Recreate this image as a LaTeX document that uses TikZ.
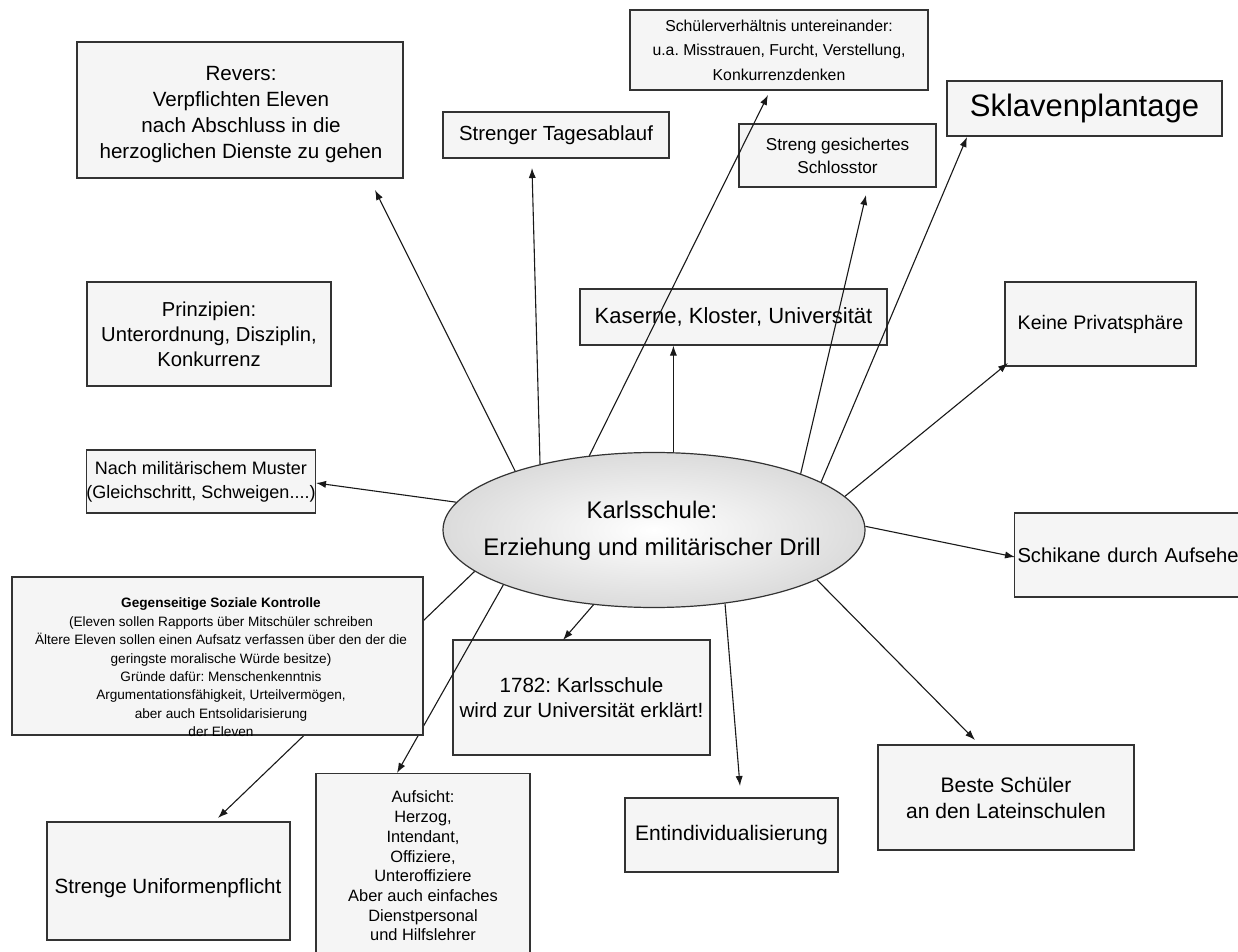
\documentclass[tikz,border=0pt]{standalone}
\usepackage{fontspec}
\setmainfont{Liberation Sans}
\usetikzlibrary{arrows.meta,shapes.geometric}
\begin{document}
\frenchspacing
\begin{tikzpicture}[x=0.5pt,y=-0.5pt,
  box/.style={draw=black!80, line width=0.6pt, fill=black!4, inner sep=0pt, align=center},
  sz/.style 2 args={minimum width={#1*0.5pt}, minimum height={#2*0.5pt}},
  fs/.style 2 args={font=\fontsize{#1}{#2}\selectfont},
  txt/.style={inner sep=0pt, align=center},
  arr/.style={draw=black!90, line width=0.55pt, -{Latex[length=5pt,width=3.6pt]}},
]
\fill[white] (0,0) rectangle (1238,952);
\useasboundingbox (0,0) rectangle (1238,952);

% boxes
\node[box, sz={326}{136}] (rev) at (240,110) {};
\node[txt, fs={10.3}{13}] (revT) at (241,115) {Revers:\\Verpflichten Eleven\\nach Abschluss in die\\herzoglichen Dienste zu gehen};
\node[box, sz={226}{46}, fs={10.2}{12}] (tag) at (556,135) {Strenger Tagesablauf};
\node[box, sz={298}{80}, fs={7.9}{12.25}] (sch) at (779,50) {Schülerverhältnis untereinander:\\u.a. Misstrauen, Furcht, Verstellung,\\Konkurrenzdenken};
\node[box, sz={275}{55}, fs={15.5}{18}] (skl) at (1084.5,108.5) {Sklavenplantage};
\node[box, sz={197}{63}, fs={8.6}{11.5}] (sto) at (837.5,155.5) {Streng gesichertes\\Schlosstor};
\node[box, sz={307}{56}, fs={11}{13}] (kas) at (733.5,317) {Kaserne, Kloster, Universität};
\node[box, sz={191}{84}, fs={9.8}{12}] (pri) at (1100.5,324) {Keine Privatsphäre};
\node[box, sz={244}{104}, fs={10.1}{12.5}] (prz) at (209,334) {Prinzipien:\\Unterordnung, Disziplin,\\Konkurrenz};
\node[box, sz={228}{63}, fs={9}{12}] (nach) at (201,481.5) {Nach militärischem Muster\\(Gleichschritt, Schweigen....)};
\node[ellipse, draw=black!80, line width=0.6pt, inner color=white, outer color=black!14, sz={422}{155}, inner sep=0pt] (ell) at (654,530) {};
\node[txt, fs={12}{18.5}] (ellT) at (652,531) {Karlsschule:\\Erziehung und militärischer Drill};
\node[box, sz={235}{84}, fs={10.1}{12}, align=left, text width=115pt, inner xsep=1.5pt] (sk) at (1132.5,555) {Schikane durch Aufsehe};
\node[box, sz={257}{115}, fs={10.3}{12.5}] (u82) at (581.5,697.5) {1782: Karlsschule\\wird zur Universität erklärt!};
\node[box, sz={256}{105}, fs={10.5}{13}] (bes) at (1006,797.5) {Beste Schüler\\an den Lateinschulen};
\node[box, sz={213}{74}, fs={10.5}{12}] (ent) at (731.5,835) {Entindividualisierung};
\node[box, sz={214}{185}, fs={8.2}{9.85}] (auf) at (423,866) {Aufsicht:\\Herzog,\\Intendant,\\Offiziere,\\Unteroffiziere\\Aber auch einfaches\\Dienstpersonal\\und Hilfslehrer};
\node[box, sz={243}{118}] (uni) at (168.5,881) {};
\node[txt, fs={10.3}{12}] (uniT) at (168,888) {Strenge Uniformenpflicht};

% arrow tips
\coordinate (tRev) at (375,190);
\coordinate (tTag) at (532,168);
\coordinate (tSch) at (768,95);
\coordinate (tSto) at (866,195);
\coordinate (tSkl) at (967,137);
\coordinate (tPri) at (1008,363);
\coordinate (tSk) at (1015,557);
\coordinate (tBes) at (975,740);
\coordinate (tEnt) at (740,786);
\coordinate (tU82) at (563,640);
\coordinate (tAuf) at (397,773);
\coordinate (tUni) at (218,818);
\coordinate (tNach) at (316,483);

% connectors
\draw[arr] (ell.157.5) -- (tRev);
\draw[arr] (ell.150.1) -- (tTag);
\draw[arr] (ell.131.3) -- (tSch);
\draw[arr] (ell.76.5) -- (ell.76.5 |- kas.south);
\draw[arr] (ell.21.3) -- (tSto);
\draw[arr] (ell.16) -- (tSkl);
\draw[arr] (ell.10.4) -- (tPri);
\draw[arr] (ell.1.7) -- (tSk);
\draw[arr] (ell.-17.2) -- (tBes);
\draw[arr] (ell.-46.3) -- (tEnt);
\draw[arr] (ell.-129.4) -- (tU82);
\draw[arr] (ell.-160.7) -- (tAuf);
\draw[arr] (ell.-167) -- (tUni);
\draw[arr] (ell.172.3) -- (tNach);

% box lying over a connector
\node[box, sz={411}{158}] (geg) at (217.5,656) {};
\node[txt, fs={6.8}{9.2}] (gegT) at (221,667.5) {\textbf{Gegenseitige Soziale Kontrolle}\\(Eleven sollen Rapports über Mitschüler schreiben\\Ältere Eleven sollen einen Aufsatz verfassen über den der die\\geringste moralische Würde besitze)\\Gründe dafür: Menschenkenntnis\\Argumentationsfähigkeit, Urteilvermögen,\\aber auch Entsolidarisierung\\der Eleven};
\end{tikzpicture}
\end{document}
